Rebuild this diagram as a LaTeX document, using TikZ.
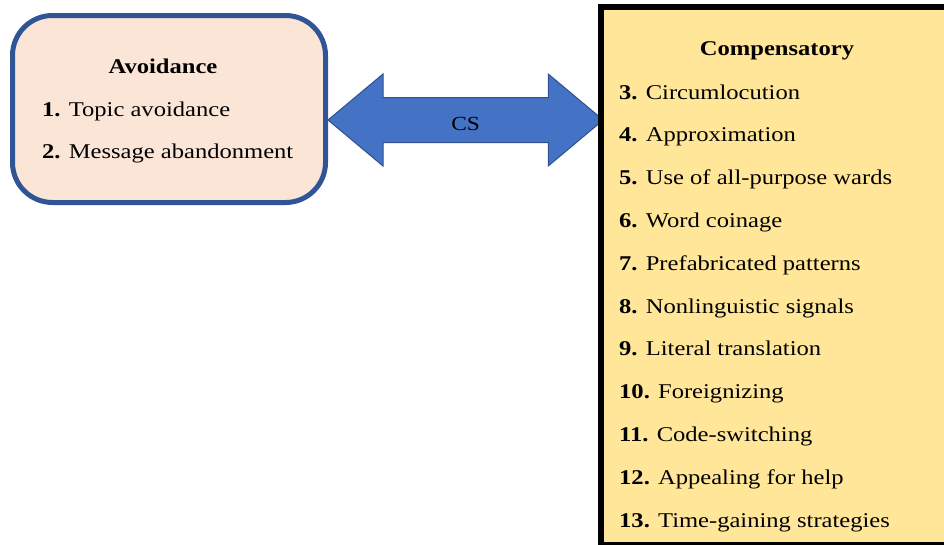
\documentclass[tikz,border=0pt]{standalone}
\usepackage{fontspec}
\setmainfont[FakeStretch=1.17]{Liberation Serif}
\usetikzlibrary{calc,backgrounds}

\definecolor{avoidfill}{RGB}{251,229,214}
\definecolor{avoidline}{RGB}{47,85,151}
\definecolor{compfill}{RGB}{255,230,153}
\definecolor{arrowfill}{RGB}{68,114,196}
\definecolor{arrowline}{RGB}{47,82,143}

\tikzset{
  avoidbox/.style={draw=avoidline, fill=avoidfill, line width=5pt,
    rounded corners=40pt, minimum width=313pt, minimum height=187pt},
  compbox/.style={draw=black, fill=compfill, line width=5.5pt,
    minimum width=349pt, minimum height=538pt},
  itemtext/.style={anchor=base west, inner sep=0pt, font=\fontsize{21}{25}\selectfont},
  titletext/.style={anchor=base, inner sep=0pt, font=\fontsize{21}{25}\selectfont\bfseries},
  csarrow/.style={fill=arrowfill, draw=arrowline, line width=1pt},
}

\begin{document}
\begin{tikzpicture}[x=1pt, y=-1pt]
\useasboundingbox (0,0) rectangle (944,544);

% boxes
\node[avoidbox] (avoid) at (169,109) {};
\node[compbox] (comp) at (775.5,276) {};

% avoidance strategies
\node[titletext] (avoidtitle) at (163,73) {Avoidance};
\node[itemtext] (item1) at (42,116) {\textbf{1.} Topic avoidance};
\node[itemtext] (item2) at (42,158) {\textbf{2.} Message abandonment};

% compensatory strategies
\node[titletext] (comptitle) at (777,55) {Compensatory};
\foreach \num/\txt [count=\i from 0] in {3/Circumlocution, 4/Approximation,
    5/Use of all-purpose wards, 6/Word coinage, 7/Prefabricated patterns,
    8/Nonlinguistic signals, 9/Literal translation, 10/Foreignizing,
    11/Code-switching, 12/Appealing for help, 13/Time-gaining strategies}
  \node[itemtext] (item\num) at (619,99+42.8*\i) {\textbf{\num.} \txt};

% double arrow between the two boxes
\coordinate (tipL) at (avoid.east |- 0,120);
\coordinate (tipR) at ($(comp.west |- 0,120)+(5,0)$);
\begin{pgfonlayer}{background}
\draw[csarrow] (tipL) -- ++(55,-46) -- ++(0,23.5) -- ($(tipR)+(-55,-22.5)$)
  -- ++(0,-23.5) -- (tipR) -- ++(-55,46) -- ++(0,-23.5)
  -- ($(tipL)+(55,22.5)$) -- ++(0,23.5) -- cycle;
\end{pgfonlayer}
\node[anchor=base, inner sep=0pt, font=\fontsize{20}{24}\selectfont] (cs)
  at ($(tipL)!0.5!(tipR)+(0,10)$) {CS};
\end{tikzpicture}
\end{document}
